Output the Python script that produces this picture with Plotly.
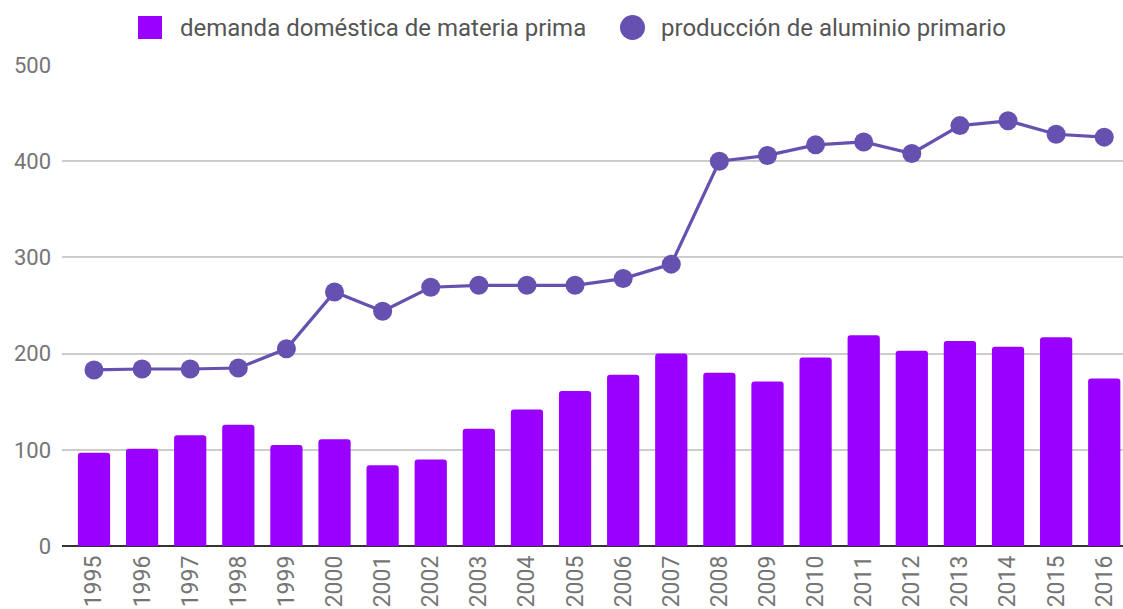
import plotly.graph_objects as go

years = [str(y) for y in range(1995, 2017)]
demanda = [97, 101, 115, 126, 105, 111, 84, 90, 122, 142, 161, 178, 200, 180, 171, 196, 219, 203, 213, 207, 217, 174]
produccion = [183, 184, 184, 185, 205, 264, 244, 269, 271, 271, 271, 278, 293, 400, 406, 417, 420, 408, 437, 442, 428, 425]
yticks = [0, 100, 200, 300, 400, 500]
legend_labels = ["demanda doméstica de materia prima", "producción de aluminio primario"]

BAR_COLOR = "#9900ff"
LINE_COLOR = "#6650b0"

W, H = 1123, 609
ML, MR, MT, MB = 62, 0, 65, 63
PW, PH = W - ML - MR, H - MT - MB


def px_x(x):
    return (x - ML) / PW


def px_y(y):
    return (H - MB - y) / PH


fig = go.Figure()
fig.add_trace(go.Bar(
    x=years, y=demanda, name=legend_labels[0],
    marker=dict(color=BAR_COLOR, line=dict(width=0)),
    showlegend=False,
))
fig.add_trace(go.Scatter(
    x=years, y=produccion, name=legend_labels[1],
    mode="lines+markers",
    line=dict(color=LINE_COLOR, width=3.2),
    marker=dict(color=LINE_COLOR, size=19),
    showlegend=False,
))

# manual legend (paper coordinates derived from pixel layout)
shapes = [
    dict(type="rect", xref="paper", yref="paper",
         x0=px_x(138), x1=px_x(162), y0=px_y(39), y1=px_y(16),
         fillcolor=BAR_COLOR, line=dict(width=0), layer="above"),
    dict(type="circle", xref="paper", yref="paper",
         x0=px_x(620), x1=px_x(645), y0=px_y(40), y1=px_y(15),
         fillcolor=LINE_COLOR, line=dict(width=0), layer="above"),
]
annotations = [
    dict(text=legend_labels[0], xref="paper", yref="paper",
         x=px_x(178), y=px_y(28), xanchor="left", yanchor="middle",
         showarrow=False, font=dict(size=24, color="#555555")),
    dict(text=legend_labels[1], xref="paper", yref="paper",
         x=px_x(659), y=px_y(28), xanchor="left", yanchor="middle",
         showarrow=False, font=dict(size=24, color="#555555")),
]

fig.update_layout(
    width=W, height=H,
    margin=dict(l=ML, r=MR, t=MT, b=MB),
    paper_bgcolor="white", plot_bgcolor="white",
    font=dict(family="Roboto", size=21, color="#757575"),
    bargap=0.33,
    barcornerradius=3,
    showlegend=False,
    shapes=shapes,
    annotations=annotations,
    xaxis=dict(
        type="category", range=[-0.665, 21.39],
        tickangle=-90, showgrid=False, ticks="",
        showline=False, zeroline=False,
        tickfont=dict(size=23, color="#757575"),
        ticklabelstandoff=4,
    ),
    yaxis=dict(
        range=[0, 500], tickvals=yticks, showgrid=True, gridcolor="#cccccc", gridwidth=1.5,
        zeroline=True, zerolinecolor="#333333", zerolinewidth=2,
        ticks="", tickfont=dict(size=22, color="#757575"), ticklabelstandoff=10,
    ),
)

fig.write_html("out.html", config={"displayModeBar": False},
               post_script="document.body.style.margin='0';")
